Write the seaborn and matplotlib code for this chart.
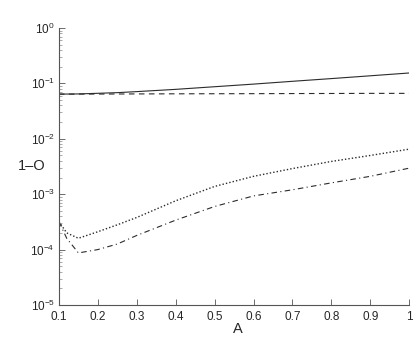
import matplotlib
matplotlib.use("Agg")
import numpy as np
import pandas as pd
import matplotlib.pyplot as plt
import seaborn as sns

# values (log y axis)
a_vals = [0.1, 0.12, 0.15, 0.2, 0.25, 0.3, 0.4, 0.5, 0.6, 0.7, 0.8, 0.9, 1.0]
solid = [0.064, 0.0642, 0.0645, 0.0662, 0.068, 0.071, 0.078, 0.087, 0.097, 0.109, 0.122, 0.137, 0.154]
dashed = [0.064, 0.064, 0.064, 0.0642, 0.0643, 0.0645, 0.0648, 0.065, 0.0652, 0.0655, 0.0657, 0.066, 0.066]
dotted = [3.2e-4, 2.0e-4, 1.6e-4, 2.1e-4, 2.8e-4, 3.8e-4, 7.6e-4, 1.38e-3, 2.1e-3, 2.9e-3, 3.9e-3, 5.0e-3, 6.5e-3]
dashdot = [3.2e-4, 1.6e-4, 8.7e-5, 1.0e-4, 1.26e-4, 1.8e-4, 3.4e-4, 6.0e-4, 9.3e-4, 1.2e-3, 1.6e-3, 2.1e-3, 2.95e-3]

x_ticks = [0.1, 0.2, 0.3, 0.4, 0.5, 0.6, 0.7, 0.8, 0.9, 1.0]
x_ticklabels = ["0.1", "0.2", "0.3", "0.4", "0.5", "0.6", "0.7", "0.8", "0.9", "1"]

sns.set_style("ticks")
plt.rcParams["font.family"] = ["Liberation Sans", "DejaVu Sans"]
plt.rcParams["mathtext.fontset"] = "custom"
plt.rcParams["mathtext.rm"] = "Liberation Sans"
plt.rcParams["mathtext.it"] = "Liberation Sans:italic"

df = pd.DataFrame({"A": a_vals, "solid": solid, "dashed": dashed,
                   "dotted": dotted, "dashdot": dashdot})

fig = plt.figure(figsize=(4.15, 3.37), dpi=100)
ax = fig.add_axes([0.142, 0.095, 0.844, 0.822])

line_col = "#2b2b2b"
sns.lineplot(data=df, x="A", y="solid", ax=ax, color=line_col, linewidth=0.8, linestyle="-")
sns.lineplot(data=df, x="A", y="dashed", ax=ax, color=line_col, linewidth=0.8)
ax.lines[-1].set_linestyle((0, (5, 4)))
sns.lineplot(data=df, x="A", y="dotted", ax=ax, color=line_col, linewidth=1.0)
ax.lines[-1].set_linestyle((0, (1, 1.5)))
sns.lineplot(data=df, x="A", y="dashdot", ax=ax, color=line_col, linewidth=0.8)
ax.lines[-1].set_linestyle((0, (5, 3, 1, 3)))

ax.set_yscale("log")
ax.set_xlim(0.1, 1.0)
ax.set_ylim(1e-5, 1)
ax.set_xticks(x_ticks)
ax.set_xticklabels(x_ticklabels)

ax.tick_params(axis="both", which="major", direction="in", length=4, width=0.6,
               labelsize=8.5, color="#555555", pad=3)
ax.tick_params(axis="x", which="major", pad=4.5)
ax.tick_params(axis="y", which="minor", direction="in", length=2, width=0.5, color="#888888")
for side in ["left", "bottom"]:
    ax.spines[side].set_color("#555555")
    ax.spines[side].set_linewidth(0.8)
sns.despine(ax=ax)

ax.set_xlabel("A", fontsize=10.5)
ax.set_ylabel("1\u2013O", fontsize=10.5, rotation=0)
ax.xaxis.set_label_coords(0.51, -0.06)
ax.yaxis.set_label_coords(-0.077, 0.50)
ax.yaxis.label.set_verticalalignment("center")

fig.savefig("out.png", dpi=100)
plt.close(fig)
